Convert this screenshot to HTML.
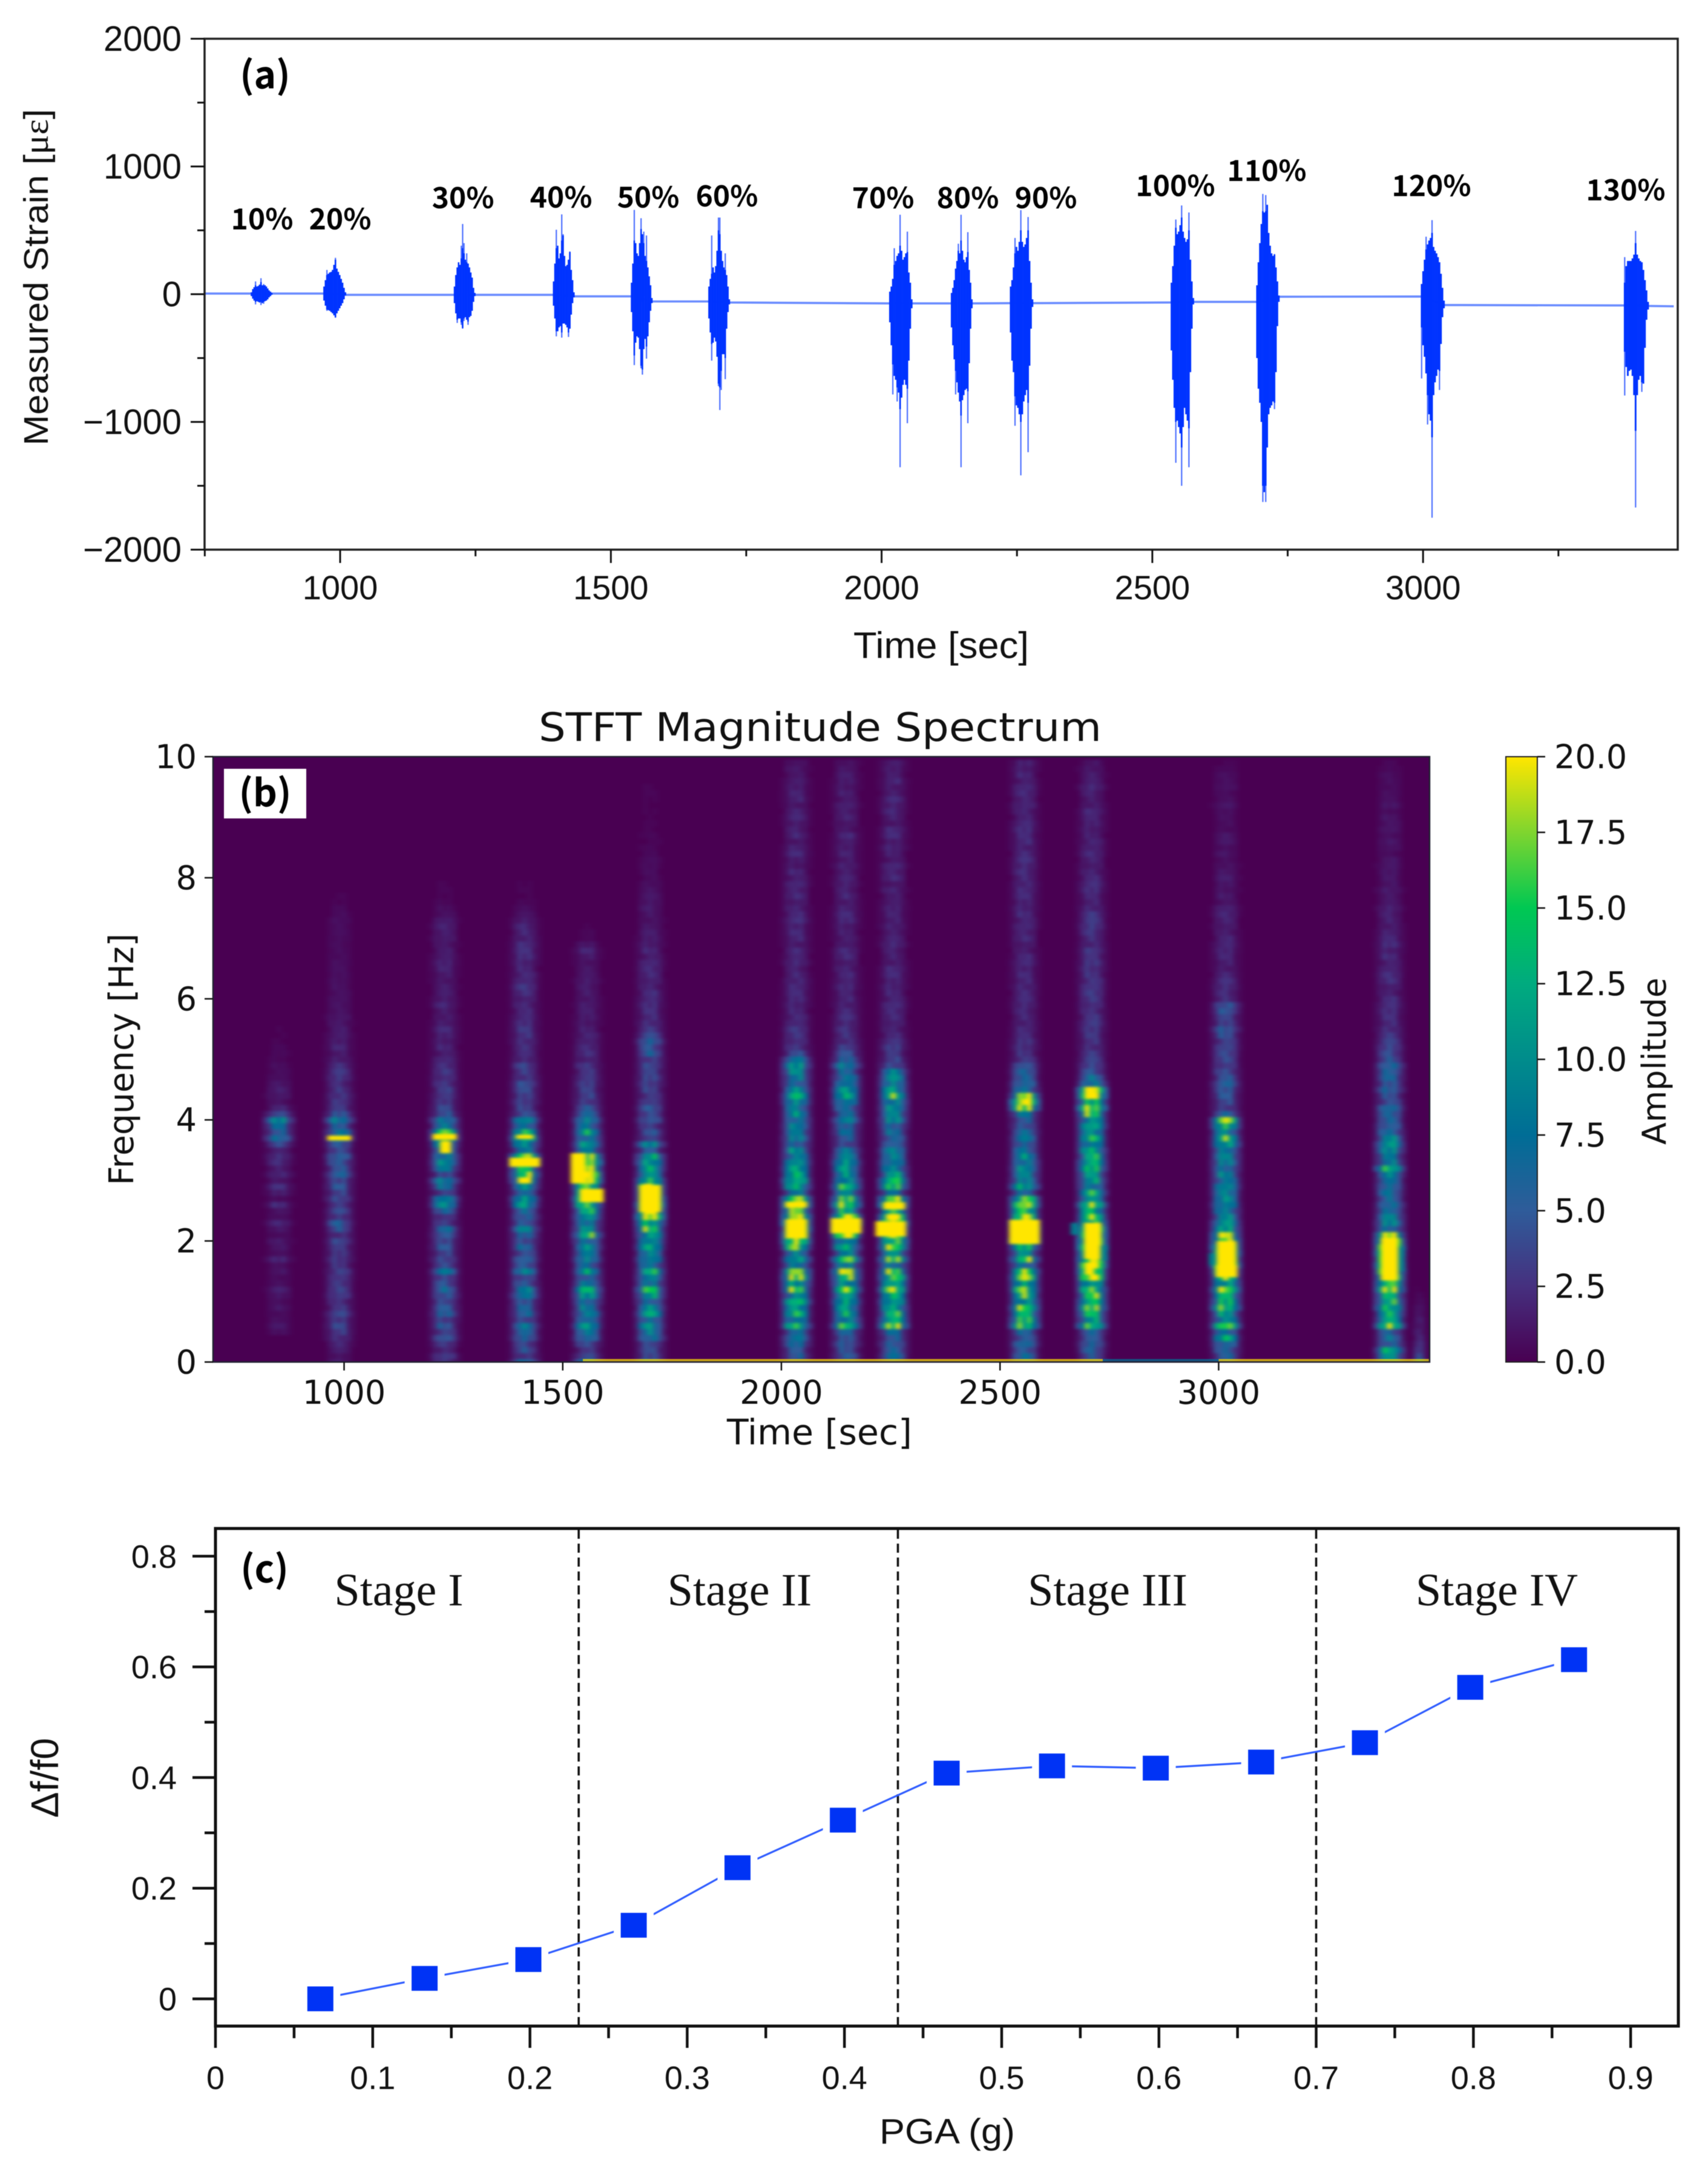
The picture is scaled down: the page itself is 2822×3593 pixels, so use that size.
<!DOCTYPE html>
<html lang="en">
<head>
<meta charset="utf-8">
<title>Measured strain, STFT spectrum and frequency change</title>
<style>
html,body{margin:0;padding:0;background:#fff;}
svg{display:block;filter:blur(0.6px);}
.sa{font-family:"Liberation Sans",sans-serif;fill:#111;}
.sd{font-family:"DejaVu Sans",sans-serif;fill:#111;}
.sb{font-family:"Noto Sans CJK KR","Liberation Sans",sans-serif;font-weight:700;fill:#000;font-size:48px;text-anchor:middle;}
.sl{font-size:62px;}
.ss{font-family:"Liberation Serif",serif;fill:#111;font-size:76px;text-anchor:middle;}
</style>
</head>
<body>
<svg id="figure" width="2822" height="3593" viewBox="0 0 2822 3593">
  <defs>
    <clipPath id="spec-clip"><rect x="352" y="1250" width="2010" height="1000"/></clipPath>
    <filter id="spec-blur" filterUnits="userSpaceOnUse" x="340" y="1240" width="2040" height="1020" color-interpolation-filters="sRGB">
      <feGaussianBlur stdDeviation="4 2.1"/>
    </filter>
    <linearGradient id="cbar-grad" x1="0" y1="1" x2="0" y2="0"></linearGradient>
  </defs>

  <g id="panel-a">
    <g id="a-marks"></g>
    <g id="a-axes"></g>
    <text class="sa" transform="translate(79,458) rotate(-90)" font-size="57" text-anchor="middle" textLength="556" lengthAdjust="spacingAndGlyphs">Measured Strain [<tspan font-family="Liberation Serif">με</tspan>]</text>
    <text class="sa" x="1555" y="1087" font-size="61" text-anchor="middle" textLength="290" lengthAdjust="spacingAndGlyphs">Time [sec]</text>
    <text class="sb sl" x="438" y="146">(a)</text>
    <text class="sb" x="433" y="379">10%</text>
    <text class="sb" x="562" y="379">20%</text>
    <text class="sb" x="765" y="344">30%</text>
    <text class="sb" x="927" y="343">40%</text>
    <text class="sb" x="1071" y="343">50%</text>
    <text class="sb" x="1201" y="341">60%</text>
    <text class="sb" x="1459" y="344">70%</text>
    <text class="sb" x="1599" y="344">80%</text>
    <text class="sb" x="1728" y="344">90%</text>
    <text class="sb" x="1942" y="324">100%</text>
    <text class="sb" x="2093" y="299">110%</text>
    <text class="sb" x="2365" y="324">120%</text>
    <text class="sb" x="2686" y="331">130%</text>
  </g>

  <g id="panel-b">
    <g clip-path="url(#spec-clip)">
      <rect x="352" y="1250" width="2010" height="1000" fill="#490052"/>
      <g id="b-cells" filter="url(#spec-blur)"></g>
      <g id="b-zero"></g>
    </g>
    <g id="b-axes"></g>
    <rect x="370" y="1270" width="136" height="82" fill="#fff"/>
    <text class="sb sl" x="438" y="1332">(b)</text>
    <text class="sd" x="1355" y="1224" font-size="65" text-anchor="middle" textLength="930" lengthAdjust="spacingAndGlyphs">STFT Magnitude Spectrum</text>
    <text class="sd" x="1354" y="2386" font-size="58" text-anchor="middle" textLength="306" lengthAdjust="spacingAndGlyphs">Time [sec]</text>
    <text class="sd" transform="translate(220,1750) rotate(-90)" font-size="56" text-anchor="middle" textLength="416" lengthAdjust="spacingAndGlyphs">Frequency [Hz]</text>
    <rect x="2488" y="1250" width="52" height="1000" fill="url(#cbar-grad)" stroke="#222" stroke-width="2"/>
    <g id="b-cbar"></g>
    <text class="sd" transform="translate(2752,1753) rotate(-90)" font-size="54" text-anchor="middle" textLength="276" lengthAdjust="spacingAndGlyphs">Amplitude</text>
  </g>

  <g id="panel-c">
    <g id="c-marks"></g>
    <g id="c-axes"></g>
    <text class="sb sl" x="437" y="2614">(c)</text>
    <text class="ss" x="659" y="2652">Stage I</text>
    <text class="ss" x="1222" y="2652">Stage II</text>
    <text class="ss" x="1830" y="2652">Stage III</text>
    <text class="ss" x="2473" y="2652">Stage IV</text>
    <text class="sa" transform="translate(96,2937) rotate(-90)" font-size="64" text-anchor="middle" textLength="132" lengthAdjust="spacingAndGlyphs">Δf/f0</text>
    <text class="sa" x="1565" y="3541" font-size="58" text-anchor="middle" textLength="224" lengthAdjust="spacingAndGlyphs">PGA (g)</text>
  </g>
</svg>

<script>
/* ---------- Panel (a): measured strain ---------- */
const strainXTicks = [1000,1500,2000,2500,3000];
const strainXMinorTicks = [750,1250,1750,2250,2750,3250];
const strainYTicks = [2000,1000,0,-1000,-2000];
const strainYTickLabels = ['2000','1000','0','\u22121000','\u22122000'];
const strainYMinorTicks = [1500,500,-500,-1500];
const baselineTimes = [750,835,875,969,1011,1210,1250,1393,1433,1537,1577,1680,1720,2014,2057,2128,2168,2237,2280,2534,2577,2692,2735,2996,3040,3371,3417,3463];
const baselineStrain = [5,5,5,5,-5,-5,-5,-5,-17,-17,-57,-57,-65,-72,-72,-72,-72,-70,-70,-65,-60,-60,-20,-18,-85,-88,-92,-95];
const burstStart = [835,969,1210,1393,1537,1680,2014,2128,2237,2534,2692,2996,3371];
const burstEnd = [875,1011,1250,1433,1577,1720,2057,2168,2280,2577,2735,3040,3417];
const coreHigh = [
 [15,40,55,70,60,65,75,95,70,70,70,60,45,30,20,10],
 [60,110,150,160,170,175,190,230,270,200,175,150,120,90,50,15],
 [60,150,210,250,230,280,360,320,270,250,240,210,170,130,50,10],
 [100,240,360,380,280,320,420,460,300,220,230,270,330,190,110,15],
 [90,240,420,400,320,300,400,510,470,400,300,260,210,140,70,-30],
 [60,120,160,210,170,220,340,500,470,340,260,210,190,150,60,-40],
 [20,60,120,230,260,300,320,380,340,270,290,320,330,170,90,-40],
 [10,50,110,200,260,340,320,420,340,270,250,290,330,190,90,-40],
 [60,110,210,320,370,340,410,500,410,370,390,440,500,260,90,-40],
 [90,220,380,520,470,490,540,600,490,440,410,430,500,270,100,-30],
 [70,250,400,550,650,640,650,700,480,380,320,300,310,210,100,-10],
 [80,180,270,350,390,420,440,480,370,340,320,290,250,160,50,-50],
 [90,220,260,260,260,280,310,400,310,280,260,250,190,110,30,-60]
];
const coreLow = [
 [-15,-35,-50,-60,-55,-60,-65,-60,-70,-60,-55,-50,-40,-25,-15,-5],
 [-50,-90,-120,-125,-130,-140,-150,-165,-180,-150,-130,-110,-90,-70,-40,-10],
 [-70,-150,-200,-190,-190,-220,-265,-190,-180,-200,-215,-180,-170,-130,-60,-15],
 [-90,-190,-290,-290,-260,-250,-300,-230,-230,-240,-260,-300,-270,-160,-70,-25],
 [-140,-290,-480,-380,-330,-340,-430,-560,-590,-430,-350,-410,-330,-220,-130,-70],
 [-190,-300,-390,-380,-340,-370,-490,-700,-730,-600,-470,-470,-500,-270,-140,-80],
 [-220,-400,-550,-640,-670,-730,-770,-900,-810,-710,-670,-710,-740,-520,-270,-110],
 [-260,-400,-510,-600,-690,-770,-840,-950,-830,-790,-750,-740,-760,-540,-270,-110],
 [-300,-520,-610,-800,-870,-890,-940,-1000,-940,-840,-790,-750,-850,-560,-270,-100],
 [-440,-670,-890,-1000,-990,-1040,-1090,-1200,-1040,-890,-940,-990,-1050,-610,-270,-80],
 [-500,-740,-850,-1000,-1500,-1550,-1500,-1200,-940,-890,-870,-840,-850,-610,-250,-60],
 [-260,-400,-490,-620,-790,-940,-990,-1120,-790,-690,-640,-590,-600,-390,-180,-110],
 [-450,-570,-640,-600,-590,-640,-790,-1070,-790,-670,-640,-690,-700,-420,-200,-120]
];
const spikeHigh = [
 [0,0,0,100,0,0,0,125,0,80,0,0,0,0,0,0],
 [0,0,190,0,0,0,0,0,285,0,0,0,0,0,0,0],
 [0,0,0,0,0,380,550,400,0,320,0,0,0,0,0,0],
 [0,0,505,0,0,0,625,470,0,0,0,0,335,0,0,0],
 [0,0,660,0,0,0,0,595,0,490,0,460,0,0,0,0],
 [0,0,460,0,0,0,0,600,600,0,0,0,320,0,0,0],
 [0,0,0,360,0,0,0,622,0,0,0,0,490,0,0,0],
 [0,0,0,0,0,395,0,622,0,0,0,0,486,0,0,0],
 [0,0,0,440,0,0,0,658,0,0,0,0,604,0,0,0],
 [0,0,0,585,0,0,0,695,0,0,0,0,640,0,0,0],
 [0,0,0,0,785,0,776,0,0,0,0,0,315,0,0,0],
 [0,0,0,450,0,0,0,580,0,0,0,0,250,0,0,0],
 [290,0,0,0,0,0,0,495,0,0,0,250,0,0,0,0]
];
const spikeLow = [
 [0,0,0,-80,0,0,0,-85,0,-75,0,0,0,0,0,0],
 [0,0,-130,0,0,0,0,0,-185,0,0,0,0,0,0,0],
 [0,0,-225,0,0,-240,-270,-210,0,0,-240,0,0,0,0,0],
 [0,0,-330,0,0,0,-340,0,0,0,0,-335,-260,0,0,0],
 [0,0,-555,0,0,0,0,-580,-630,0,0,-505,0,0,0,0],
 [0,0,-520,0,0,0,0,-720,-907,-750,0,0,-665,0,0,0],
 [0,0,-785,0,0,-840,0,-1355,0,0,0,0,-1010,0,0,0],
 [0,0,0,-785,0,0,0,-1355,0,0,0,0,-1010,0,0,0],
 [0,0,0,-1030,0,0,0,-1418,0,0,0,0,-1237,0,0,0],
 [0,0,0,-1320,0,0,0,-1500,0,0,0,0,-1355,0,0,0],
 [0,0,0,0,-1627,0,-1627,0,0,0,0,0,-900,0,0,0],
 [-660,0,0,0,-1020,0,0,-1750,0,0,0,0,-750,0,0,0],
 [-793,0,0,0,0,0,0,-1670,0,0,0,-765,0,0,0,0]
];

/* ---------- Panel (b): STFT heatmap ---------- */
const specXTicks = [1000,1500,2000,2500,3000];
const specYTicks = [0,2,4,6,8,10];
const cbarTicks = [0,2.5,5,7.5,10,12.5,15,17.5,20];
const cbarTickLabels = ['0.0','2.5','5.0','7.5','10.0','12.5','15.0','17.5','20.0'];
const viridisAmps = [0,2.5,5,7.5,10,12.5,15,17.5,20];
const viridisColors = ['#490052','#46307f','#2f5c9a','#006d96','#008c8c','#00ab7f','#00c853','#7fd52f','#ffe600'];
const burstCentres = [851,989,1230,1413,1556,1700,2034,2148,2256,2556,2710,3016,3391,3459];
const columnWeights = [0.18,0.55,0.95,1,0.95,0.55,0.18];
const columnOffsets = [-33,-22,-11,0,11,22,33];
const cellStreaks = [1,.72,1.15,.85,.6,1.1,.95,.7,1.2,.8,1.05,.65,1.15,.9,.75,1.1,.62,1,.85,1.2,.7,.95,1.05];
const amp10 = [0,0,0,0,0,.8,1.2,.8,.8,1.2, .8,1.2,1.6,.8,.8,1.2,.8,2,.8,1.2, 1.6,.8,1.2,2,.8,1.2,2.5,.8,1.6,2.5, 1.2,2.5,1.6,2.5,2.5,1.6,4,9,6,7, 10,4,2,1.2,1.6,1.6,1.2,.8,.8,.8, .5,.5,.4,.3,.3,.3,.2,.2,.2,.2];
const amp20 = [1.5,1,1.5,2,3,3.5,4,3,4,3, 3,4,3.5,3,3,4,3,3.5,3,3, 4,3,5,6,3,4,3,5,4,5, 4,6,5,6,7,4,5,9,9,6, 10,5,3,3,3.5,3,2.5,3,3,2.5, 2,1.5,2,1.5,1.5,1.5,1.5,1.5,1,1, 1,1,1,1,.8,.8,.8,.8,.7,.7, .7,.7,.7,1,.7,.5,.3,.3,.2,.2];
const amp30 = [3,4,2,3,5,4,5.5,4,6,5, 4,6,7,5,4,8,4,5,4,5, 4,5,7,4,3.5,6,10,9,4,8, 10,4,8,10,10,9,11,14,16,8, 10,5,4,3,3,3.5,3.5,3,3,2.5, 2.2,1.8,2.2,1.8,1.8,2.2,1.5,1.8,1.5,2.2, 1.5,1.5,1.5,1.5,1.5,1.8,1.8,1.5,1.5,1.5, 1.8,1.5,1.8,1.5,1,.8,.5,.3,.3,.3];
const amp40 = [7,3.5,5,4,6,6,8,5,7,6, 5,8,9,6,5,9,5,6,5,7, 5,6,9,5,7,7,12,11,6,10, 13,18,14,16,18,8,12,16,14,7, 10,5,4,4,3.5,4,4.5,3.5,3.5,4, 2.2,2.2,2.5,3,3,3,2.5,2.2,2.2,2.5, 2.2,2.5,3,2.2,2.5,2.2,2.2,2.5,2.5,2.5, 2.2,2.2,2.2,1.5,1,.7,.5,.3,.3,.3];
const amp50 = [8,4,3,5,8,8,11,7,10,9, 8,11,13,8,7,12,7,9,8,10, 9,16,10,8,10,14,18,20,17,16, 22,24,24,24,18,8,11,9,13,8, 9,6,5,4,4,3.5,3.5,3,3,3.5, 2.2,2.5,2.2,1.8,2.2,1.8,1.5,1.5,1.5,1.5, 1.5,1.5,1.5,1.5,1.2,1.2,1.2,1.5,2,1.2, .4,.4,.3,.2,.2];
const amp60 = [7,4,4,4,9,9,11,7,12,10, 8,12,15,8,9,14,9,11,9,12, 10,13,17,15,24,20,24,20,24,22, 14,10,12,14,13,5,10,3.5,5,4, 6,4,5,3.5,3.5,4,4,4,3.5,4, 4,6,5,6,4,3,3,2.5,2.5,2.5, 2.2,2.5,2.2,2.2,2.2,2.2,2.2,1.8,2.2,1.8, 1.5,1.5,1.2,1.2,1.2,1.5,1.2,1.2,1,1, .7,.7,.7,.7,.5,.5,.4,.4,.3,.3, .3,.3,.3,.3,.3,.3,.2,.2,.2,.2];
const amp70 = [4,6,5,7,8,7,17,10,14,11, 15,11,18,13,18,17,8,14,9,18, 20,24,24,24,24,17,21,18,8,15, 16,13,12,11,10,11,7,9,8,9, 9,11,9,10,13,10,8,9,10,11, 8,4.5,3.5,3,2.8,3,2.2,2.5,2.2,2.2, 2.2,2.2,2.2,2.5,2.2,1.8,2.2,1.8,2.2,1.8, 2.2,2.2,1.8,2.5,2.2,2.2,1.8,2.2,1.8,2.2, 1.8,2.2,1.5,1.5,2.2,1.8,1.5,2.2,1.8,1.5, 2,1.8,1.5,2,1.8,1.5,1.5,1.2,1.5,1.2];
const amp80 = [3,6,5,6,5,6,15,11,13,12, 12,11,18,13,17,19,9,17,9,15, 11,24,24,24,24,14,20,16,9,15, 12,11,12,11,9,8,5,6,7,6, 9,7,8,10,12,11,8,9,7,10, 6,4.5,3.5,3,2.8,2.8,2.2,2.5,2.2,2.2, 2.2,1.8,2.2,1.8,2.2,2.2,1.8,2.2,2.2,1.5, 1.8,1.8,1.8,2.2,2.2,1.8,1.8,2.2,1.8,1.8, 1.8,1.5,2.2,1.5,1.8,1.5,1.5,2.2,1.5,1.5, 1.8,1.5,1.8,1.5,1.8,1.5,1.5,1.5,1.2,1.2];
const amp90 = [4,7,6,7,6,7,18,13,15,14, 14,13,18,13,18,18,9,17,10,18, 19,24,24,24,22,14,24,22,7,15, 15,12,11,10,9,9,6,7,8,7, 10,9,10,11,16,12,9,10,9,5, 4,3,3.5,2.8,2.2,2.2,2.2,2.2,2.2,2.5, 2.2,2.2,2.2,1.8,2.2,2.2,1.8,1.8,1.8,2.2, 1.8,1.5,2.2,1.8,1.8,1.8,1.5,1.5,2.2,1.5, 2.2,1.8,2.2,1.5,1.8,2.2,1.5,2.2,2.2,1.5, 1.8,2.2,1.8,2.2,1.5,1.8,2.2,1.5,1.5,1.5];
const amp100 = [6,7,5,7,6,7,18,15,13,17, 13,16,18,12,18,17,9,18,10,14, 24,24,24,24,20,15,20,19,7,14, 9,9,10,10,11,8,6,8,7,6, 6,8,19,22,20,9,8,6,6,5, 3.5,3,3,2.8,2.2,2.2,2.2,2.2,2.2,2.2, 2.2,2.2,2.5,2.2,2.2,1.8,2.2,2.2,1.8,1.8, 2.2,1.8,2.2,2.2,2.5,2.2,1.8,2.2,2.2,2.5, 2.2,2.5,2.2,2.5,2.2,2.2,2.5,2.2,2.5,2.2, 1.8,2.2,2.5,1.8,2.2,2.2,1.8,2.2,1.8,1.8];
const amp110 = [5,5,6,6,5,6,19,12,14,17, 14,17,19,14,24,21,24,24,24,24, 24,24,24,18,20,14,18,10,14,10, 12,11,14,13,14,15,11,14,10,13, 12,17,22,14,24,24,10,8,5,4, 3.5,3.2,3,3,3,3,3.2,3,3,3, 3,3.2,3,3.2,3,3,3,2.5,3,2.5, 2.5,3,3.2,3,3,2.5,2,2,2.5,2.5, 2.2,2.2,1.8,1.8,2.2,1.8,2.2,1.8,1.8,1.8, 1.8,2.2,1.8,1.5,1.8,2.2,1.5,1.5,1.5,1.2];
const amp120 = [4,6,7,8,13,7,18,11,12,18, 14,13,19,14,19,20,24,24,24,24, 21,19,12,11,10,10,11,10,9,10, 9,10,8,9,9,8,14,16,10,14, 18,6,4,4.5,5,5,6,5,5,4, 4,4,4,4,5,6,3.5,3.5,5,6, 2.5,2.5,2.5,2.5,2,1.8,1.8,2,2,2, 2,1.8,1.8,1.8,2,1.8,1.2,1.5,1.2,1.2, 1.5,1.2,1.2,.8,1.2,.8,1.2,1.2,.8,.8, .8,.8,1.2,.8,.8,1.2,.8,.8,.5,.4];
const amp130 = [8,10,13,7,8,6,18,12,13,17, 15,13,19,16,24,24,24,24,24,24, 24,24,8,10,9,7,9,7,8,7, 7,9,18,9,8,10,11,10,8,7, 6,6,7,5,5,7,5,6,6,8, 5,4.5,4,3.5,3,3,2.5,2.5,2.5,2.5, 2.5,2,2,2.5,2.5,2,2,2.5,2,2.5, 2,1.8,1.8,1.8,1.8,1.8,1.2,1.2,1.8,1.2, 1.2,1.2,1.2,1.2,.8,1.2,1.2,.8,1.2,1.2, 1.2,.8,1.2,.8,.8,.8,.8,.8,.5,.4];
const ampTail = [10,4,3,2.5,2,2,1.5,1.5,1,1,.7,.5,.3,.2];
const burstAmps = [amp10,amp20,amp30,amp40,amp50,amp60,amp70,amp80,amp90,amp100,amp110,amp120,amp130,ampTail];
const tailIndex = 13;
const hotTime = [989,1230,1232,1413,1413,1413,1536,1566,1700,2034,2034,2148,2250,2258,2556,2712,2670,2738,3018,3018,2985,3391,3418];
const hotFreq = [3.7,3.72,3.55,3.3,3.72,3.0,3.2,2.75,2.7,2.2,2.6,2.25,2.2,2.58,2.15,2.0,2.2,1.8,1.8,1.5,1.7,1.7,1.7];
const hotSpanTime = [55,55,25,70,40,30,35,55,50,50,50,70,70,50,70,40,16,16,45,50,16,40,14];
const hotSpanFreq = [.08,.1,.2,.15,.07,.1,.5,.22,.45,.32,.1,.25,.25,.12,.4,.6,.2,.25,.4,.2,.2,.7,.4];
const hotAmp = [22,22,22,24,22,22,24,24,24,24,22,24,24,24,24,24,9,9,24,22,9,24,9];
const zeroLineStart = [1546,2735,3000];
const zeroLineEnd = [2735,3000,3482];
const zeroLineAmp = [20,8,20];

/* ---------- Panel (c): frequency change vs PGA ---------- */
const pgaValues = [.0667,.133,.199,.266,.332,.399,.465,.532,.598,.665,.731,.798,.864];
const dfValues = [0,.037,.071,.133,.237,.323,.408,.421,.417,.428,.463,.563,.613];
const stageBoundaries = [.231,.434,.700];
const pgaXTicks = [0,.1,.2,.3,.4,.5,.6,.7,.8,.9];
const pgaXTickLabels = ['0','0.1','0.2','0.3','0.4','0.5','0.6','0.7','0.8','0.9'];
const pgaXMinorTicks = [.05,.15,.25,.35,.45,.55,.65,.75,.85];
const dfYTicks = [0,.2,.4,.6,.8];
const dfYTickLabels = ['0','0.2','0.4','0.6','0.8'];
const dfYMinorTicks = [.1,.3,.5,.7];

/* ---------- Axis functions ---------- */
const xA = t => 562 + (t - 1000) * 0.8946;
const yA = v => 486 - v * 0.211;
const xB = t => 568.5 + (t - 1000) * 0.7225;
const yB = f => 2250 - f * 100;
const yBar = a => 2250 - a * 50;
const xC = p => 356 + p * 2598;
const yC = v => 3302 - v * 914;

const root = document.getElementById('figure');
function make(parent, tag, attrs, text) {
  const el = document.createElementNS(root.namespaceURI, tag);
  for (const k in attrs) el.setAttribute(k, attrs[k]);
  if (text !== undefined) el.textContent = text;
  parent.appendChild(el);
  return el;
}
function viridis(a) {
  const v = Math.max(0, Math.min(20, a));
  let i = 0;
  while (i < viridisAmps.length - 2 && v > viridisAmps[i + 1]) i++;
  const f = (v - viridisAmps[i]) / (viridisAmps[i + 1] - viridisAmps[i]);
  const c0 = viridisColors[i], c1 = viridisColors[i + 1];
  let out = '#';
  for (let k = 1; k < 7; k += 2) {
    const p = parseInt(c0.substr(k, 2), 16), q = parseInt(c1.substr(k, 2), 16);
    out += Math.round(p + (q - p) * f).toString(16).padStart(2, '0');
  }
  return out;
}

/* ---------- Draw panel (a) ---------- */
(function () {
  const marks = document.getElementById('a-marks');
  const axes = document.getElementById('a-axes');
  const pts = baselineTimes.map((t, i) => xA(t).toFixed(1) + ',' + yA(baselineStrain[i]).toFixed(1)).join(' ');
  const base = make(marks, 'polyline', {points: pts, fill: 'none', stroke: '#6a8cff', 'stroke-width': 3.6});
  
  
  burstStart.forEach((s, b) => {
    const g = make(marks, 'g', {});
    
    
    const n = coreHigh[b].length;
    const step = (burstEnd[b] - s) / n;
    for (let j = 0; j < n; j++) {
      const t = s + step * (j + 0.5);
      const mid = (coreHigh[b][j] + coreLow[b][j]) / 2;
      if (spikeHigh[b][j] !== 0) {
        const sp = make(g, 'line', {x1: xA(t), x2: xA(t), y1: yA(spikeHigh[b][j]), y2: yA(mid), stroke: '#4d70ff', 'stroke-width': 2.2});
        
        
      }
      if (spikeLow[b][j] !== 0) {
        const sp = make(g, 'line', {x1: xA(t), x2: xA(t), y1: yA(mid), y2: yA(spikeLow[b][j]), stroke: '#4d70ff', 'stroke-width': 2.2});
        
        
      }
      const c = make(g, 'line', {x1: xA(t), x2: xA(t), y1: yA(coreHigh[b][j]), y2: yA(coreLow[b][j]), stroke: '#0033ff', 'stroke-width': (step * 0.8946 + 0.3).toFixed(2)});
      
      
    }
  });
  const frame = make(axes, 'rect', {x: 338, y: 64, width: 2434, height: 844, fill: 'none', stroke: '#222', 'stroke-width': 3.5});
  
  
  strainXTicks.forEach(t => {
    const l = make(axes, 'line', {x1: xA(t), x2: xA(t), y1: 908, y2: 930, stroke: '#111', 'stroke-width': 3});
    
    
    const tx = make(axes, 'text', {x: xA(t), y: 990, class: 'sa', 'font-size': 56, 'text-anchor': 'middle'}, String(t));
    
    
  });
  strainXMinorTicks.forEach(t => {
    const l = make(axes, 'line', {x1: xA(t), x2: xA(t), y1: 908, y2: 919, stroke: '#111', 'stroke-width': 3});
    
    
  });
  strainYTicks.forEach((v, i) => {
    const l = make(axes, 'line', {x1: 315, x2: 338, y1: yA(v), y2: yA(v), stroke: '#111', 'stroke-width': 3});
    
    
    const tx = make(axes, 'text', {x: 300, y: yA(v) + 20, class: 'sa', 'font-size': 58, 'text-anchor': 'end'}, strainYTickLabels[i]);
    
    
  });
  strainYMinorTicks.forEach(v => {
    const l = make(axes, 'line', {x1: 326, x2: 338, y1: yA(v), y2: yA(v), stroke: '#111', 'stroke-width': 3});
    
    
  });
})();

/* ---------- Draw panel (b) ---------- */
(function () {
  const cells = document.getElementById('b-cells');
  const axes = document.getElementById('b-axes');
  const zero = document.getElementById('b-zero');
  const cbar = document.getElementById('b-cbar');
  const grad = document.getElementById('cbar-grad');
  viridisAmps.forEach((a, i) => {
    make(grad, 'stop', {offset: (a / 20), 'stop-color': viridisColors[i]});
  });
  const bg = make(cells, 'rect', {x: 340, y: 1240, width: 2040, height: 1020, fill: '#490052'});
  
  
  burstCentres.forEach((tc, b) => {
    const amps = burstAmps[b];
    columnWeights.forEach((w, c) => {
      const colW = b === tailIndex ? 4 : 8;
      const t = tc + columnOffsets[c] * (b === tailIndex ? 0.5 : 1);
      amps.forEach((a, r) => {
        const streak = cellStreaks[(r * 3 + c * 5 + b * 7) % cellStreaks.length];
        const val = a * w * streak;
        if (val < 0.25) return;
        const f = r / 10;
        const cell = make(cells, 'rect', {x: (xB(t) - colW / 2).toFixed(1), y: yB(f + 0.05).toFixed(1), width: colW + 0.5, height: 10.5, fill: viridis(val)});
        
        
      });
    });
  });
  hotTime.forEach((t, i) => {
    const x0 = xB(t - hotSpanTime[i] / 2), x1 = xB(t + hotSpanTime[i] / 2);
    const y0 = yB(hotFreq[i] + hotSpanFreq[i] / 2), y1 = yB(hotFreq[i] - hotSpanFreq[i] / 2);
    const hs = make(cells, 'rect', {x: x0.toFixed(1), y: y0.toFixed(1), width: (x1 - x0).toFixed(1), height: (y1 - y0).toFixed(1), fill: viridis(hotAmp[i])});
    
    
  });
  zeroLineStart.forEach((t, i) => {
    const z = make(zero, 'rect', {x: xB(t), y: 2245, width: xB(zeroLineEnd[i]) - xB(t), height: 5, fill: viridis(zeroLineAmp[i]), opacity: 0.7});
    
    
  });
  const frame = make(axes, 'rect', {x: 352, y: 1250, width: 2010, height: 1000, fill: 'none', stroke: '#223', 'stroke-width': 2.5});
  
  
  specXTicks.forEach(t => {
    const l = make(axes, 'line', {x1: xB(t), x2: xB(t), y1: 2250, y2: 2264, stroke: '#111', 'stroke-width': 2.5});
    
    
    const tx = make(axes, 'text', {x: xB(t), y: 2319, class: 'sd', 'font-size': 54, 'text-anchor': 'middle'}, String(t));
    
    
  });
  specYTicks.forEach(f => {
    const l = make(axes, 'line', {x1: 338, x2: 352, y1: yB(f), y2: yB(f), stroke: '#111', 'stroke-width': 2.5});
    
    
    const tx = make(axes, 'text', {x: 325, y: yB(f) + 19, class: 'sd', 'font-size': 54, 'text-anchor': 'end'}, String(f));
    
    
  });
  cbarTicks.forEach((a, i) => {
    const l = make(cbar, 'line', {x1: 2540, x2: 2553, y1: yBar(a), y2: yBar(a), stroke: '#111', 'stroke-width': 2.5});
    
    
    const tx = make(cbar, 'text', {x: 2568, y: yBar(a) + 19, class: 'sd', 'font-size': 54}, cbarTickLabels[i]);
    
    
  });
})();

/* ---------- Draw panel (c) ---------- */
(function () {
  const marks = document.getElementById('c-marks');
  const axes = document.getElementById('c-axes');
  stageBoundaries.forEach(p => {
    const d = make(marks, 'line', {x1: xC(p), x2: xC(p), y1: 2527, y2: 3345, stroke: '#111', 'stroke-width': 3.6, 'stroke-dasharray': '15 8'});
    
    
  });
  const pts = pgaValues.map((p, i) => xC(p).toFixed(1) + ',' + yC(dfValues[i]).toFixed(1)).join(' ');
  const ln = make(marks, 'polyline', {points: pts, fill: 'none', stroke: '#2f5cff', 'stroke-width': 3.2});
  
  
  pgaValues.forEach((p, i) => {
    const halo = make(marks, 'rect', {x: xC(p) - 21, y: yC(dfValues[i]) - 20, width: 42, height: 40, fill: '#fff', stroke: '#fff', 'stroke-width': 24});
    
    
  });
  pgaValues.forEach((p, i) => {
    const m = make(marks, 'rect', {x: xC(p) - 21.5, y: yC(dfValues[i]) - 20.5, width: 43, height: 41, fill: '#0033f5'});
    
    
  });
  const frame = make(axes, 'rect', {x: 356, y: 2525, width: 2417, height: 822, fill: 'none', stroke: '#111', 'stroke-width': 5});
  
  
  pgaXTicks.forEach((p, i) => {
    const l = make(axes, 'line', {x1: xC(p), x2: xC(p), y1: 3347, y2: 3383, stroke: '#111', 'stroke-width': 4.5});
    
    
    const tx = make(axes, 'text', {x: xC(p), y: 3451, class: 'sa', 'font-size': 54, 'text-anchor': 'middle'}, pgaXTickLabels[i]);
    
    
  });
  pgaXMinorTicks.forEach(p => {
    const l = make(axes, 'line', {x1: xC(p), x2: xC(p), y1: 3347, y2: 3367, stroke: '#111', 'stroke-width': 4.5});
    
    
  });
  dfYTicks.forEach((v, i) => {
    const l = make(axes, 'line', {x1: 318, x2: 356, y1: yC(v), y2: yC(v), stroke: '#111', 'stroke-width': 4.5});
    
    
    const tx = make(axes, 'text', {x: 292, y: yC(v) + 19, class: 'sa', 'font-size': 54, 'text-anchor': 'end'}, dfYTickLabels[i]);
    
    
  });
  dfYMinorTicks.forEach(v => {
    const l = make(axes, 'line', {x1: 338, x2: 356, y1: yC(v), y2: yC(v), stroke: '#111', 'stroke-width': 4.5});
    
    
  });
})();
</script>
</body>
</html>
